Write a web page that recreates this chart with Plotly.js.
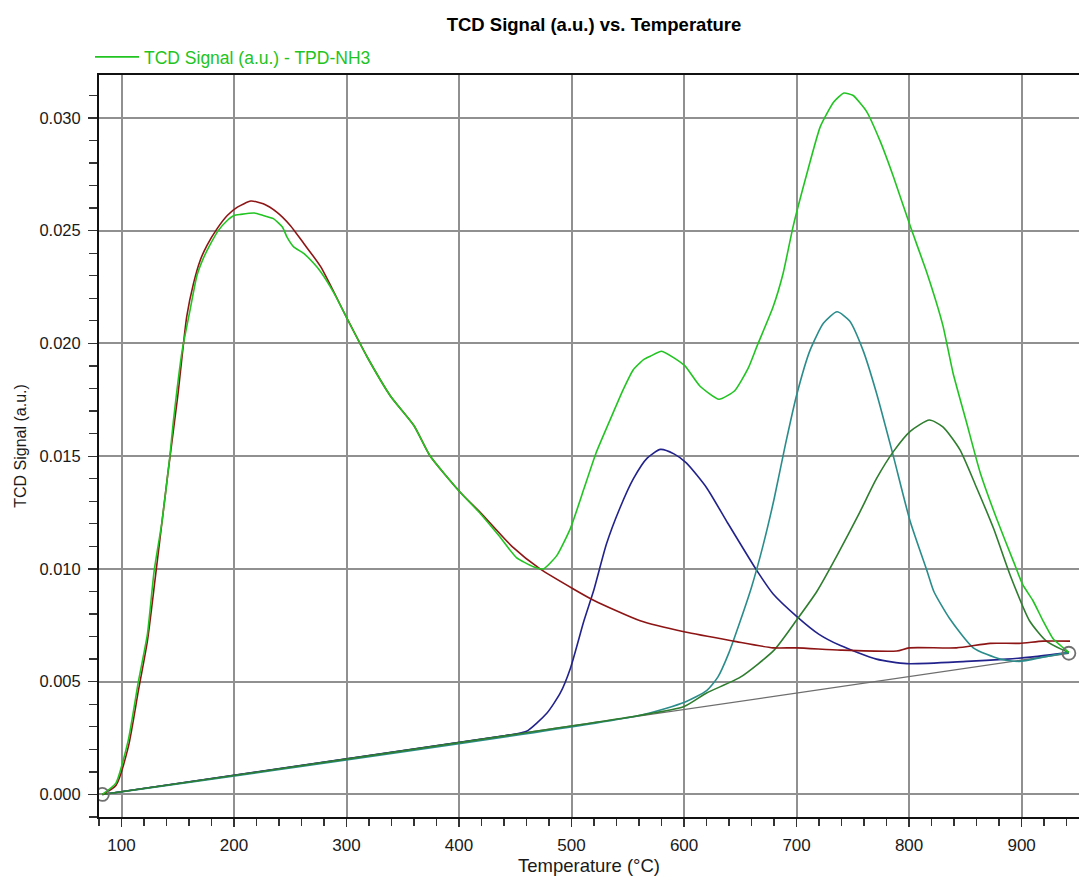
<!DOCTYPE html>
<html>
<head>
<meta charset="utf-8">
<script src="https://cdn.plot.ly/plotly-3.0.1.min.js"></script>
<style>html,body{margin:0;padding:0;background:#fff;}#chart{width:1079px;height:876px;}</style>
</head>
<body>
<div id="chart"></div>
<script>
// Measured TCD signal (TPD-NH3)
const tcdTemp = [83,95,106,115,123,129,136,143,146,154,161,167,173,179,186,194,200,206,218,226,235,243,247,253,262,271,277,289,301,318,339,360,374,401,419,435,451,466,475,487,499,511,522,537,546,555,564,570,580,591,601,614,631,645,657,665,679,688,697,709,721,733,742,750,762,774,786,801,816,830,839,851,863,878,893,901,910,919,928,937,942];
const tcdSignal = [0,0.0005,0.0024,0.0050,0.0071,0.0099,0.0121,0.0150,0.0165,0.0197,0.0215,0.0230,0.0238,0.0244,0.0250,0.02545,0.02567,0.02572,0.02578,0.02567,0.02553,0.02516,0.02472,0.02428,0.02399,0.02354,0.02318,0.02222,0.02105,0.01943,0.01767,0.01635,0.01503,0.0134,0.01245,0.0115,0.0105,0.0101,0.0100,0.0106,0.0118,0.01355,0.01517,0.01693,0.01796,0.01884,0.01928,0.01943,0.01965,0.01936,0.01899,0.01811,0.01752,0.0179,0.0189,0.0199,0.0216,0.0231,0.0252,0.0275,0.0296,0.0307,0.0311,0.0310,0.0303,0.0290,0.0274,0.0252,0.0231,0.0208,0.0187,0.0165,0.0143,0.0122,0.0103,0.0093,0.0086,0.0077,0.0069,0.0065,0.0063];

// Fitted peak 1 (low temperature)
const peak1Temp = [83,95,106,115,123,130,141,150,158,164,170,176,185,194,203,215,226,238,250,262,277,301,318,339,360,374,401,419,447,472,502,520,561,601,644,679,700,739,789,800,842,872,898,919,943];
const peak1Signal = [0,0.0004,0.0021,0.0046,0.0068,0.0096,0.01415,0.01767,0.0212,0.02266,0.02369,0.02435,0.02509,0.02567,0.02604,0.02631,0.02619,0.02582,0.02523,0.02443,0.0234,0.02105,0.01943,0.01767,0.01635,0.01503,0.0134,0.0125,0.0110,0.0100,0.0091,0.0086,0.0077,0.0072,0.0068,0.0065,0.0065,0.0064,0.00636,0.0065,0.0065,0.0067,0.0067,0.0068,0.0068];

// Fitted peak 2
const peak2Temp = [83,440,450,460,478,490,499,511,520,531,543,555,567,579,591,602,620,638,665,679,700,720,739,771,798,851,887,910,942];
const peak2Signal = [0,0.0026,0.00268,0.0028,0.0036,0.0045,0.0056,0.0077,0.0091,0.0111,0.0127,0.0140,0.0149,0.0153,0.0151,0.0147,0.0136,0.0121,0.0099,0.0089,0.0079,0.0071,0.0066,0.0060,0.0058,0.0059,0.0060,0.0061,0.0063];

// Fitted peak 3
const peak3Temp = [83,560,601,620,630,640,650,660,670,680,690,700,712,724,736,747,759,771,786,801,816,822,836,857,881,898,920,942];
const peak3Signal = [0,0.0035,0.0041,0.0046,0.0052,0.0063,0.0077,0.0092,0.0110,0.0131,0.0155,0.0177,0.0197,0.0209,0.0214,0.0210,0.0197,0.0178,0.0150,0.0121,0.0099,0.0090,0.0078,0.0065,0.0060,0.0059,0.0061,0.0063];

// Fitted peak 4
const peak4Temp = [83,560,600,620,650,680,701,718,736,756,771,786,801,818,830,845,860,875,890,907,922,937,942];
const peak4Signal = [0,0.0035,0.0039,0.0045,0.0052,0.0064,0.0078,0.0090,0.0106,0.0125,0.0140,0.0152,0.0161,0.0166,0.0163,0.0153,0.0136,0.0118,0.0097,0.0077,0.0068,0.0064,0.0063];

// Baseline and its anchor points
const baseTemp = [83,942];
const baseSignal = [0,0.00626];

const xTicks = [100,200,300,400,500,600,700,800,900];
const yTicks = [0,0.005,0.010,0.015,0.020,0.025,0.030];
const yTickText = ['0.000','0.005','0.010','0.015','0.020','0.025','0.030'];

const FONT = 'Liberation Sans, Arial, sans-serif';

const traces = [
  {x: baseTemp, y: baseSignal, mode: 'lines', line: {color: '#6e6e6e', width: 1.3}, showlegend: false, hoverinfo: 'skip'},
  {x: peak2Temp, y: peak2Signal, mode: 'lines', line: {color: '#22228c', width: 1.6, shape: 'spline', smoothing: 0.6}, showlegend: false},
  {x: peak3Temp, y: peak3Signal, mode: 'lines', line: {color: '#2b8c8c', width: 1.6, shape: 'spline', smoothing: 0.6}, showlegend: false},
  {x: peak4Temp, y: peak4Signal, mode: 'lines', line: {color: '#2f7d2f', width: 1.6, shape: 'spline', smoothing: 0.6}, showlegend: false},
  {x: peak1Temp, y: peak1Signal, mode: 'lines', line: {color: '#8e1515', width: 1.6, shape: 'spline', smoothing: 0.6}, showlegend: false},
  {x: tcdTemp, y: tcdSignal, mode: 'lines', name: 'TCD Signal (a.u.) - TPD-NH3', line: {color: '#22c422', width: 1.6, shape: 'spline', smoothing: 0.5}, showlegend: true},
  {x: baseTemp, y: baseSignal, mode: 'markers', marker: {symbol: 'circle-open', size: 13, color: '#707070', line: {width: 1.8, color: '#707070'}}, showlegend: false}
];

const layout = {
  width: 1079, height: 876,
  margin: {l: 99, r: 0, t: 70, b: 59},
  paper_bgcolor: '#fff', plot_bgcolor: '#fff',
  font: {family: FONT, size: 16, color: '#1a1a1a'},
  title: {text: '<b>TCD Signal (a.u.) vs. Temperature</b>', x: 594/1079, xref: 'container', xanchor: 'center', y: 1 - 25/876, yref: 'container', yanchor: 'middle', font: {family: FONT, size: 18.5, color: '#000'}},
  showlegend: true,
  legend: {x: 90/1079, xref: 'container', xanchor: 'left', y: 1 - 57/876, yref: 'container', yanchor: 'middle', orientation: 'h', bgcolor: 'rgba(0,0,0,0)', font: {family: FONT, size: 17.5, color: '#22c422'}, itemwidth: 44},
  xaxis: {
    range: [80, 951], tickvals: xTicks, ticktext: xTicks.map(String),
    showgrid: true, gridcolor: '#909090', gridwidth: 2, zeroline: false,
    showline: true, linecolor: '#111', linewidth: 2, mirror: true,
    ticks: 'outside', ticklen: 8, tickwidth: 1.3, tickcolor: '#333',
    minor: {dtick: 20, tick0: 80, ticks: 'outside', ticklen: 7, tickwidth: 1.3, tickcolor: '#333', showgrid: false},
    tickfont: {family: FONT, size: 17, color: '#1a1a1a'}, ticklabelstandoff: 4,
    title: {text: 'Temperature (°C)', font: {family: FONT, size: 18.5, color: '#1a1a1a'}, standoff: 1},
    automargin: false
  },
  yaxis: {
    range: [-0.001, 0.0319], tickvals: yTicks, ticktext: yTickText,
    showgrid: true, gridcolor: '#909090', gridwidth: 2, zeroline: false,
    showline: true, linecolor: '#111', linewidth: 2,
    ticks: 'outside', ticklen: 9, tickwidth: 1.3, tickcolor: '#333',
    minor: {dtick: 0.001, tick0: 0, ticks: 'outside', ticklen: 8, tickwidth: 1.3, tickcolor: '#333', showgrid: false},
    tickfont: {family: FONT, size: 16.5, color: '#1a1a1a'}, ticklabelstandoff: 4,
    title: {text: 'TCD Signal (a.u.)', font: {family: FONT, size: 16, color: '#1a1a1a'}, standoff: 9},
    automargin: false
  }
};

Plotly.newPlot('chart', traces, layout, {displayModeBar: false, staticPlot: true});
</script>
</body>
</html>
